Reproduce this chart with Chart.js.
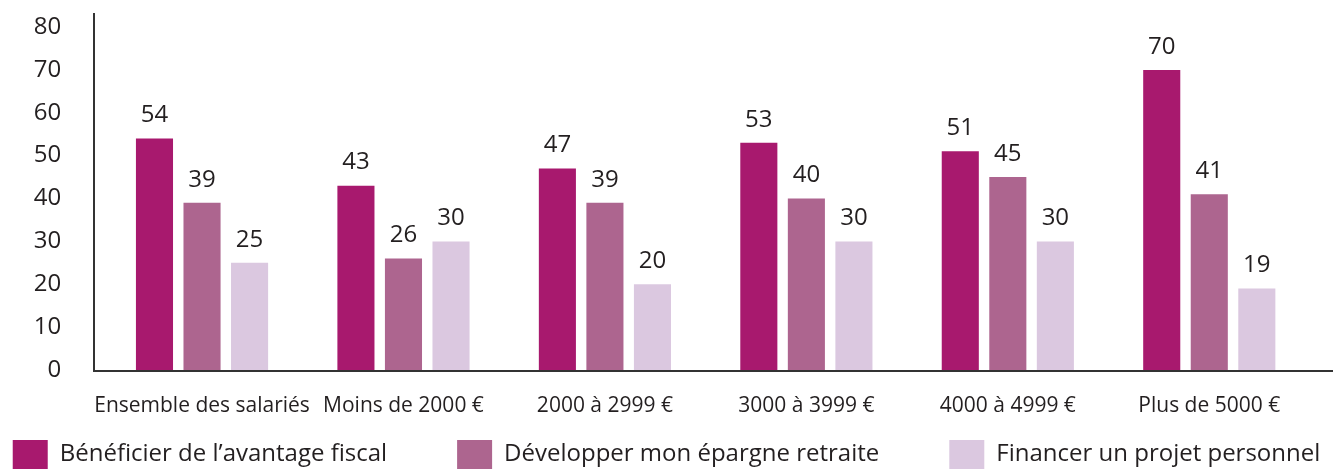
<!DOCTYPE html>
<html lang="fr">
<head>
<meta charset="utf-8">
<script src="https://cdn.jsdelivr.net/npm/chart.js@4.4.0/dist/chart.umd.min.js"></script>
<style>
  html, body { margin: 0; padding: 0; background: #fff; }
  #wrap { width: 1333px; height: 470px; position: relative; }
</style>
</head>
<body>
<div id="wrap"><canvas id="motivations"></canvas></div>
<script>
// données
const categories = ['Ensemble des salariés', 'Moins de 2000 €', '2000 à 2999 €', '3000 à 3999 €', '4000 à 4999 €', 'Plus de 5000 €'];
const avantage_fiscal = [54, 43, 47, 53, 51, 70];
const epargne_retraite = [39, 26, 39, 40, 45, 41];
const projet_personnel = [25, 30, 20, 30, 30, 19];
const y_min = 0, y_max = 80, y_pas = 10;

const texte = '#231f20';
const police = "'Open Sans', sans-serif";

Chart.defaults.font.family = police;
Chart.defaults.font.weight = '500';
Chart.defaults.color = texte;

// légende sur une seule ligne, avec un grand écart entre les entrées
const legendeFixe = {
  id: 'legendeFixe',
  beforeLayout(chart) {
    const lg = chart.legend;
    if (!lg || lg._patched) return;
    const fit = lg.fit;
    lg.fit = function () {
      const mw = this.maxWidth;
      this.maxWidth = 5000;   // pas de retour à la ligne
      fit.call(this);
      this.maxWidth = mw;
      this.width = mw;
      this.height = 55;
    };
    lg._patched = true;
  },
  afterLayout(chart) {
    const lg = chart.legend;
    const pad = lg.options.labels.padding;
    lg.left = -300;
    lg.right = chart.width + 300;
    lg.top = 440 - pad;
  }
};

// valeurs au-dessus des barres
const etiquettes = {
  id: 'etiquettes',
  afterDatasetsDraw(chart) {
    const ctx = chart.ctx;
    ctx.save();
    ctx.font = '500 24px ' + police;
    ctx.fillStyle = texte;
    ctx.textAlign = 'center';
    ctx.textBaseline = 'middle';
    chart.data.datasets.forEach((ds, i) => {
      chart.getDatasetMeta(i).data.forEach((bar, j) => {
        ctx.fillText(ds.data[j], bar.x, bar.y - 23);
      });
    });
    ctx.restore();
  }
};

// axes (trait vertical et ligne de base)
const axes = {
  id: 'axes',
  afterDraw(chart) {
    const ctx = chart.ctx;
    const base = chart.scales.y.getPixelForValue(0);
    ctx.save();
    ctx.strokeStyle = '#333';
    ctx.lineWidth = 2;
    ctx.beginPath();
    ctx.moveTo(94, 13);
    ctx.lineTo(94, base + 1);
    ctx.lineTo(chart.width, base + 1);
    ctx.stroke();
    ctx.restore();
  }
};

new Chart(document.getElementById('motivations'), {
  type: 'bar',
  data: {
    labels: categories,
    datasets: [
      { label: 'Bénéficier de l’avantage fiscal', data: avantage_fiscal, backgroundColor: '#a8196e' },
      { label: 'Développer mon épargne retraite', data: epargne_retraite, backgroundColor: '#ad658f' },
      { label: 'Financer un projet personnel', data: projet_personnel, backgroundColor: '#dbc8e0' }
    ]
  },
  options: {
    responsive: true,
    maintainAspectRatio: false,
    animation: false,
    datasets: {
      bar: { categoryPercentage: 0.708, barPercentage: 0.78 }
    },
    layout: { padding: { top: 27, right: 23, left: 0, bottom: 0 } },
    plugins: {
      tooltip: { enabled: false },
      legend: {
        position: 'bottom',
        labels: {
          boxWidth: 35,
          boxHeight: 29,
          padding: 70,
          color: texte,
          font: { size: 24 }
        }
      }
    },
    scales: {
      x: {
        grid: { display: false, drawTicks: false },
        border: { display: false },
        ticks: { font: { size: 21 }, padding: 23, maxRotation: 0, autoSkip: false },
        afterFit(scale) { scale.height = 45; }
      },
      y: {
        min: y_min,
        max: y_max,
        grid: { display: false, drawTicks: false },
        border: { display: false },
        ticks: { stepSize: y_pas, font: { size: 24 }, padding: 40 },
        afterFit(scale) {
          scale.width = 101.3;
          scale.paddingTop = 0;
          scale.paddingBottom = 0;
        }
      }
    }
  },
  plugins: [legendeFixe, etiquettes, axes]
});
</script>
</body>
</html>
